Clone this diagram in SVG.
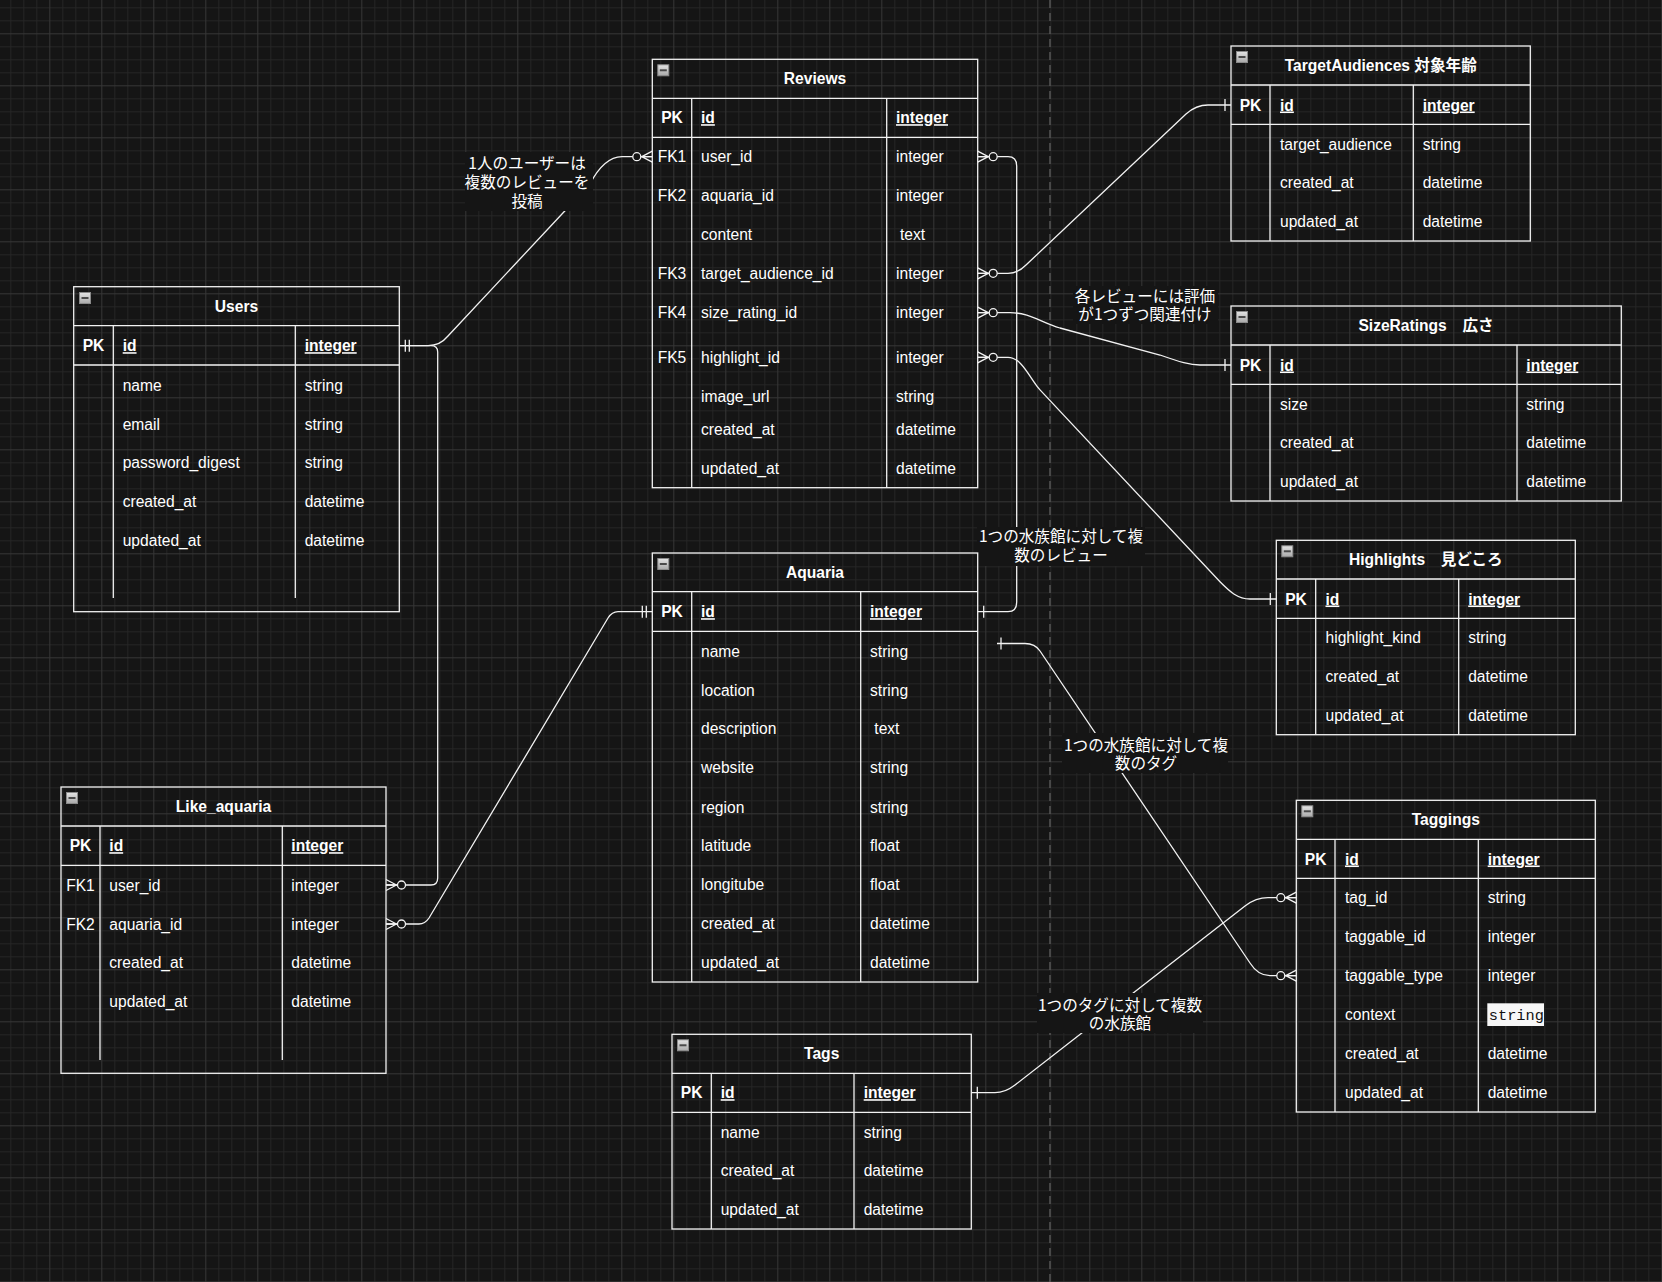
<svg xmlns="http://www.w3.org/2000/svg" xmlns:xlink="http://www.w3.org/1999/xlink" width="1662" height="1282" viewBox="0 0 1662 1282">
<style>
.t{font-family:"Liberation Sans",Arial,"Noto Sans CJK JP",sans-serif;font-size:15.6px;fill:#fff}
.b{font-weight:bold}
.u{text-decoration:underline}
.m{text-anchor:middle}
.box{fill:none;stroke:#f2f2f2;stroke-width:1.3}
.ln{fill:none;stroke:#f2f2f2;stroke-width:1.3}
.edge{fill:none;stroke:#f2f2f2;stroke-width:1.3}
.lbl{font-family:"Noto Sans CJK JP","Liberation Sans",sans-serif;font-size:15.6px;fill:#fff;text-anchor:middle}
.lbg{fill:#151515}
</style>
<defs>
<pattern id="grid" width="52" height="52" patternUnits="userSpaceOnUse" x="49.3" y="33.3">
<path d="M13.5 0V52M26.5 0V52M39.5 0V52M0 13.5H52M0 26.5H52M0 39.5H52" stroke="#252525" stroke-width="1" fill="none"/>
<path d="M0.5 0V52M0 0.5H52" stroke="#363636" stroke-width="1" fill="none"/>
</pattern>
<linearGradient id="ig" x1="0" y1="0" x2="0" y2="1"><stop offset="0" stop-color="#e4e4e4"/><stop offset="1" stop-color="#a9a9a9"/></linearGradient>
<g id="icon"><rect x="0.5" y="0.5" width="11" height="11" fill="url(#ig)" stroke="#8a8a8a" stroke-width="1"/><path d="M2.5 6H9.5" stroke="#4a4a4a" stroke-width="2"/></g>
<g id="zm"><path d="M0,-5.5L10.5,0M0,0H11.5M0,5.5L10.5,0" class="edge"/><circle cx="15.5" cy="0" r="4" fill="#151515" stroke="#f2f2f2" stroke-width="1.3"/></g>
<g id="one"><path d="M6,-6V6" class="edge"/></g>
<g id="mone"><path d="M6,-6V6M10,-6V6" class="edge"/></g>
</defs>
<rect width="1662" height="1282" fill="#151515"/>
<rect width="1662" height="1282" fill="url(#grid)"/>
<path d="M1050 0V1282" stroke="#555" stroke-width="1.5" stroke-dasharray="8 5"/>

<g id="connectors">
<path class="edge" d="M399.3,345.7 L428,345.7 Q440,345.7 448,336 L590,184 Q604,157 622,156.7 L652.3,156.7"/>
<path class="edge" d="M399.3,345.7 L431,345.7 Q437.7,345.7 437.7,352 L437.7,878 Q437.7,885 431,885 L386,885"/>
<path class="edge" d="M652.3,611.7 L618,611.7 Q612,611.7 608,618 L429,918 Q425,924 419,924 L386,924"/>
<path class="edge" d="M977.7,156.7 L1008,156.7 Q1016.7,156.7 1016.7,166 L1016.7,602 Q1016.7,611.7 1008,611.7 L977.7,611.7"/>
<path class="edge" d="M977.7,273.3 L1008,273.3 Q1018,273.3 1026,265 L1186,114 Q1196,105 1208,105 L1231,105"/>
<path class="edge" d="M977.7,312.7 L1010,312.7 C1030,312.7 1040,322 1060,328 L1160,355 C1180,362 1190,365 1200,365 L1231,365"/>
<path class="edge" d="M977.7,357.3 L1008,357.3 C1022,357.3 1030,379 1040,389.9 L1220,581.8 C1230,592 1238,599 1250,599 L1276.3,599"/>
<path class="edge" d="M997,643.5 L1025,643.5 Q1035,643.5 1040,651 L1250,963 Q1258,975.7 1270,975.7 L1296.3,975.7"/>
<path class="edge" d="M971.3,1092.7 L995,1092.7 Q1005,1092.7 1015,1085 L1245,906 Q1256,897.7 1268,897.7 L1296.3,897.7"/>
<use xlink:href="#mone" transform="translate(399.3,345.7)"/>
<use xlink:href="#zm" transform="translate(652.3,156.7) scale(-1,1)"/>
<use xlink:href="#zm" transform="translate(386,885)"/>
<use xlink:href="#zm" transform="translate(386,924)"/>
<use xlink:href="#mone" transform="translate(652.3,611.7) scale(-1,1)"/>
<use xlink:href="#zm" transform="translate(977.7,156.7)"/>
<use xlink:href="#one" transform="translate(977.7,611.7)"/>
<use xlink:href="#zm" transform="translate(977.7,273.3)"/>
<use xlink:href="#one" transform="translate(1231,105) scale(-1,1)"/>
<use xlink:href="#zm" transform="translate(977.7,312.7)"/>
<use xlink:href="#one" transform="translate(1231,365) scale(-1,1)"/>
<use xlink:href="#zm" transform="translate(977.7,357.3)"/>
<use xlink:href="#one" transform="translate(1276.3,599) scale(-1,1)"/>
<use xlink:href="#one" transform="translate(995,643.5)"/>
<use xlink:href="#zm" transform="translate(1296.3,975.7) scale(-1,1)"/>
<use xlink:href="#one" transform="translate(971.3,1092.7)"/>
<use xlink:href="#zm" transform="translate(1296.3,897.7) scale(-1,1)"/>
<rect class="lbg" x="465" y="152" width="128" height="59"/>
<text class="lbl" x="527" y="168.5"><tspan x="527">1人のユーザーは</tspan><tspan x="527" dy="19">複数のレビューを</tspan><tspan x="527" dy="19">投稿</tspan></text>
<rect class="lbg" x="977" y="527" width="168" height="39"/>
<text class="lbl" x="1061" y="542.2"><tspan x="1061">1つの水族館に対して複</tspan><tspan x="1061" dy="18.3">数のレビュー</tspan></text>
<rect class="lbg" x="1073" y="286" width="145" height="38"/>
<text class="lbl" x="1145" y="301.5"><tspan x="1145">各レビューには評価</tspan><tspan x="1145" dy="18">が1つずつ関連付け</tspan></text>
<rect class="lbg" x="1062" y="733" width="166" height="40"/>
<text class="lbl" x="1146" y="750.5"><tspan x="1146">1つの水族館に対して複</tspan><tspan x="1146" dy="18.3">数のタグ</tspan></text>
<rect class="lbg" x="1037" y="993" width="166" height="40"/>
<text class="lbl" x="1120" y="1010.5"><tspan x="1120">1つのタグに対して複数</tspan><tspan x="1120" dy="18.3">の水族館</tspan></text>
</g>

<g id="reviews">
<rect class="box" x="652.3" y="59.3" width="325.4" height="428.4"/>
<path class="ln" d="M652.3 98.3H977.7M652.3 137.3H977.7M691.7 98.3V487.7M886.7 98.3V487.7"/>
<use xlink:href="#icon" transform="translate(657.3,64.3)"/>
<text class="t b m" x="815" y="84.3">Reviews</text>
<text class="t b m" x="672" y="123.2">PK</text><text class="t b u" x="701" y="123.2">id</text><text class="t b u" x="896" y="123.2">integer</text>
<text class="t m" x="672" y="162.2">FK1</text><text class="t" x="701" y="162.2">user_id</text><text class="t" x="896" y="162.2">integer</text>
<text class="t m" x="672" y="201.2">FK2</text><text class="t" x="701" y="201.2">aquaria_id</text><text class="t" x="896" y="201.2">integer</text>
<text class="t" x="701" y="240.2">content</text><text class="t" x="900" y="240.2">text</text>
<text class="t m" x="672" y="278.8">FK3</text><text class="t" x="701" y="278.8">target_audience_id</text><text class="t" x="896" y="278.8">integer</text>
<text class="t m" x="672" y="318.2">FK4</text><text class="t" x="701" y="318.2">size_rating_id</text><text class="t" x="896" y="318.2">integer</text>
<text class="t m" x="672" y="362.8">FK5</text><text class="t" x="701" y="362.8">highlight_id</text><text class="t" x="896" y="362.8">integer</text>
<text class="t" x="701" y="402.2">image_url</text><text class="t" x="896" y="402.2">string</text>
<text class="t" x="701" y="434.8">created_at</text><text class="t" x="896" y="434.8">datetime</text>
<text class="t" x="701" y="473.8">updated_at</text><text class="t" x="896" y="473.8">datetime</text>
</g>

<g id="users">
<rect class="box" x="73.7" y="286.7" width="325.6" height="325"/>
<path class="ln" d="M73.7 325.7H399.3M73.7 365H399.3M113.3 325.7V598M295.3 325.7V598"/>
<use xlink:href="#icon" transform="translate(79,292)"/>
<text class="t b m" x="236.5" y="311.7">Users</text>
<text class="t b m" x="93.5" y="351.2">PK</text><text class="t b u" x="122.7" y="351.2">id</text><text class="t b u" x="304.7" y="351.2">integer</text>
<text class="t" x="122.7" y="390.5">name</text><text class="t" x="304.7" y="390.5">string</text>
<text class="t" x="122.7" y="429.5">email</text><text class="t" x="304.7" y="429.5">string</text>
<text class="t" x="122.7" y="468.2">password_digest</text><text class="t" x="304.7" y="468.2">string</text>
<text class="t" x="122.7" y="507.2">created_at</text><text class="t" x="304.7" y="507.2">datetime</text>
<text class="t" x="122.7" y="546.2">updated_at</text><text class="t" x="304.7" y="546.2">datetime</text>
</g>

<g id="target-audiences">
<rect class="box" x="1231" y="46" width="299.3" height="195"/>
<path class="ln" d="M1231 85H1530.3M1231 124.3H1530.3M1270 85V241M1413.3 85V241"/>
<use xlink:href="#icon" transform="translate(1236,51)"/>
<text class="t b m" x="1380.7" y="71">TargetAudiences 対象年齢</text>
<text class="t b m" x="1250.5" y="110.5">PK</text><text class="t b u" x="1280" y="110.5">id</text><text class="t b u" x="1422.7" y="110.5">integer</text>
<text class="t" x="1280" y="149.5">target_audience</text><text class="t" x="1422.7" y="149.5">string</text>
<text class="t" x="1280" y="188.2">created_at</text><text class="t" x="1422.7" y="188.2">datetime</text>
<text class="t" x="1280" y="227.2">updated_at</text><text class="t" x="1422.7" y="227.2">datetime</text>
</g>

<g id="size-ratings">
<rect class="box" x="1231" y="306" width="390.3" height="195"/>
<path class="ln" d="M1231 345H1621.3M1231 384.3H1621.3M1270 345V501M1517 345V501"/>
<use xlink:href="#icon" transform="translate(1236,311)"/>
<text class="t b m" x="1426" y="331">SizeRatings　広さ</text>
<text class="t b m" x="1250.5" y="370.5">PK</text><text class="t b u" x="1280" y="370.5">id</text><text class="t b u" x="1526.3" y="370.5">integer</text>
<text class="t" x="1280" y="409.5">size</text><text class="t" x="1526.3" y="409.5">string</text>
<text class="t" x="1280" y="448.2">created_at</text><text class="t" x="1526.3" y="448.2">datetime</text>
<text class="t" x="1280" y="487.2">updated_at</text><text class="t" x="1526.3" y="487.2">datetime</text>
</g>

<g id="highlights">
<rect class="box" x="1276.3" y="540.3" width="299" height="194.4"/>
<path class="ln" d="M1276.3 579H1575.3M1276.3 618.3H1575.3M1315.7 579V734.7M1458.7 579V734.7"/>
<use xlink:href="#icon" transform="translate(1281.3,545.3)"/>
<text class="t b m" x="1425.8" y="565.2">Highlights　見どころ</text>
<text class="t b m" x="1296" y="604.5">PK</text><text class="t b u" x="1325.5" y="604.5">id</text><text class="t b u" x="1468.2" y="604.5">integer</text>
<text class="t" x="1325.5" y="643.2">highlight_kind</text><text class="t" x="1468.2" y="643.2">string</text>
<text class="t" x="1325.5" y="682.2">created_at</text><text class="t" x="1468.2" y="682.2">datetime</text>
<text class="t" x="1325.5" y="721.2">updated_at</text><text class="t" x="1468.2" y="721.2">datetime</text>
</g>

<g id="taggings">
<rect class="box" x="1296.3" y="800.3" width="299" height="311.7"/>
<path class="ln" d="M1296.3 839.3H1595.3M1296.3 878.3H1595.3M1335 839.3V1112M1478.3 839.3V1112"/>
<use xlink:href="#icon" transform="translate(1301.3,805.3)"/>
<text class="t b m" x="1445.8" y="825.3">Taggings</text>
<text class="t b m" x="1315.7" y="864.5">PK</text><text class="t b u" x="1345" y="864.5">id</text><text class="t b u" x="1487.7" y="864.5">integer</text>
<text class="t" x="1345" y="903.2">tag_id</text><text class="t" x="1487.7" y="903.2">string</text>
<text class="t" x="1345" y="942.2">taggable_id</text><text class="t" x="1487.7" y="942.2">integer</text>
<text class="t" x="1345" y="981.2">taggable_type</text><text class="t" x="1487.7" y="981.2">integer</text>
<text class="t" x="1345" y="1020.2">context</text>
<rect x="1487.3" y="1003.3" width="56.7" height="22.7" fill="#f7f7f7"/>
<text x="1488.8" y="1020" font-family="'Liberation Mono','DejaVu Sans Mono',monospace" font-size="15.3" fill="#111">string</text>
<text class="t" x="1345" y="1059.2">created_at</text><text class="t" x="1487.7" y="1059.2">datetime</text>
<text class="t" x="1345" y="1098.2">updated_at</text><text class="t" x="1487.7" y="1098.2">datetime</text>
</g>

<g id="like-aquaria">
<rect class="box" x="61" y="787" width="325" height="286.3"/>
<path class="ln" d="M61 826H386M61 865.3H386M100 826V1060M282.3 826V1060"/>
<use xlink:href="#icon" transform="translate(66,792)"/>
<text class="t b m" x="223.5" y="812">Like_aquaria</text>
<text class="t b m" x="80.5" y="851.2">PK</text><text class="t b u" x="109.3" y="851.2">id</text><text class="t b u" x="291.3" y="851.2">integer</text>
<text class="t m" x="80.5" y="890.5">FK1</text><text class="t" x="109.3" y="890.5">user_id</text><text class="t" x="291.3" y="890.5">integer</text>
<text class="t m" x="80.5" y="929.5">FK2</text><text class="t" x="109.3" y="929.5">aquaria_id</text><text class="t" x="291.3" y="929.5">integer</text>
<text class="t" x="109.3" y="968.2">created_at</text><text class="t" x="291.3" y="968.2">datetime</text>
<text class="t" x="109.3" y="1007.2">updated_at</text><text class="t" x="291.3" y="1007.2">datetime</text>
</g>

<g id="aquaria">
<rect class="box" x="652.3" y="553" width="325.4" height="429"/>
<path class="ln" d="M652.3 591.7H977.7M652.3 631.3H977.7M691.7 591.7V982M860.7 591.7V982"/>
<use xlink:href="#icon" transform="translate(657.3,558)"/>
<text class="t b m" x="815" y="577.8">Aquaria</text>
<text class="t b m" x="672" y="617.2">PK</text><text class="t b u" x="701" y="617.2">id</text><text class="t b u" x="870" y="617.2">integer</text>
<text class="t" x="701" y="656.5">name</text><text class="t" x="870" y="656.5">string</text>
<text class="t" x="701" y="695.5">location</text><text class="t" x="870" y="695.5">string</text>
<text class="t" x="701" y="734.2">description</text><text class="t" x="874.3" y="734.2">text</text>
<text class="t" x="701" y="773.2">website</text><text class="t" x="870" y="773.2">string</text>
<text class="t" x="701" y="812.5">region</text><text class="t" x="870" y="812.5">string</text>
<text class="t" x="701" y="851.2">latitude</text><text class="t" x="870" y="851.2">float</text>
<text class="t" x="701" y="890.2">longitube</text><text class="t" x="870" y="890.2">float</text>
<text class="t" x="701" y="929.2">created_at</text><text class="t" x="870" y="929.2">datetime</text>
<text class="t" x="701" y="968.2">updated_at</text><text class="t" x="870" y="968.2">datetime</text>
</g>

<g id="tags">
<rect class="box" x="672" y="1034.3" width="299.3" height="194.7"/>
<path class="ln" d="M672 1073.3H971.3M672 1112.3H971.3M711.3 1073.3V1229M854 1073.3V1229"/>
<use xlink:href="#icon" transform="translate(677,1039.3)"/>
<text class="t b m" x="821.7" y="1059.3">Tags</text>
<text class="t b m" x="691.7" y="1098.2">PK</text><text class="t b u" x="720.7" y="1098.2">id</text><text class="t b u" x="863.7" y="1098.2">integer</text>
<text class="t" x="720.7" y="1137.5">name</text><text class="t" x="863.7" y="1137.5">string</text>
<text class="t" x="720.7" y="1176.2">created_at</text><text class="t" x="863.7" y="1176.2">datetime</text>
<text class="t" x="720.7" y="1215.2">updated_at</text><text class="t" x="863.7" y="1215.2">datetime</text>
</g>
</svg>
